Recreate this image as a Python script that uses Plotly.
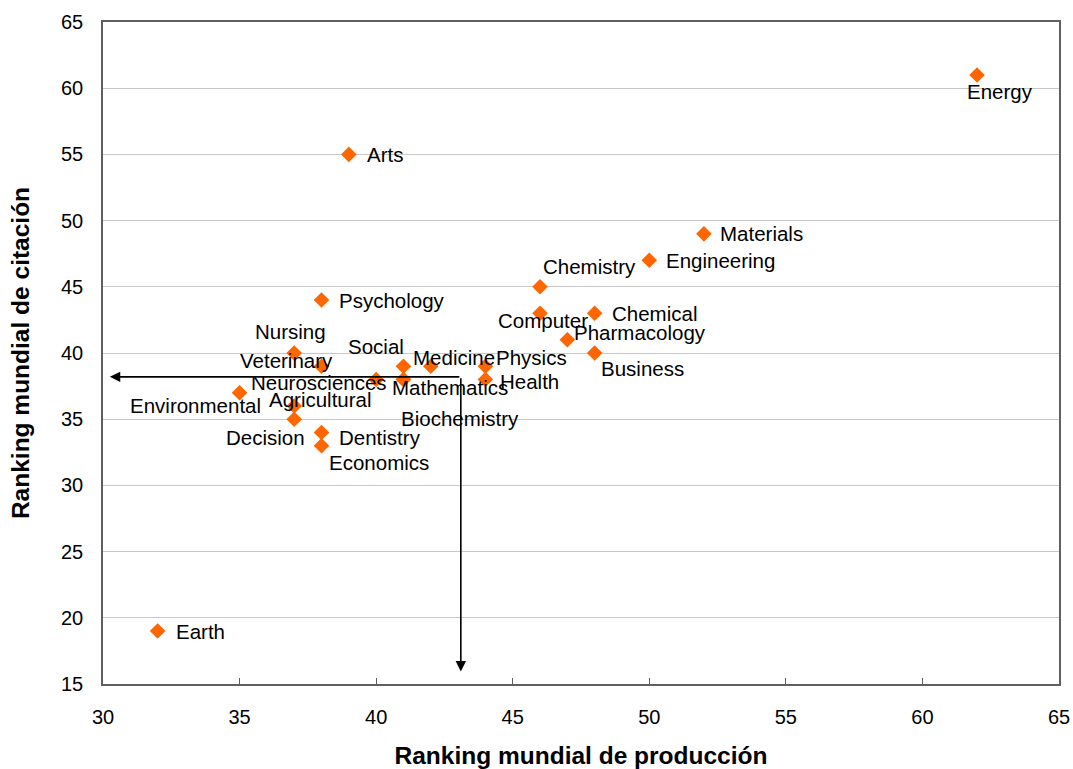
import plotly.graph_objects as go

# ---- data ----
areas = ["Energy", "Arts", "Materials", "Engineering", "Chemistry", "Computer",
         "Chemical", "Pharmacology", "Business", "Psychology", "Nursing",
         "Veterinary", "Social", "Medicine", "Physics", "Neurosciences",
         "Mathematics", "Health", "Environmental", "Agricultural",
         "Biochemistry", "Decision", "Dentistry", "Economics", "Earth"]
produccion = [62, 39, 52, 50, 46, 46, 48, 47, 48, 38, 37, 38, 41, 42, 44, 40,
              41, 44, 35, 37, 41, 37, 38, 38, 32]
citacion = [61, 55, 49, 47, 45, 43, 43, 41, 40, 44, 40, 39, 39, 39, 39, 38,
            38, 38, 37, 36, 38, 35, 34, 33, 19]

ref_x = 43.1   # reference production rank
ref_y = 38.2   # reference citation rank

# ---- label placement (pixel offsets of label centre from point; style) ----
label_offsets = {
    "Energy": (23, 17), "Arts": (36, 0), "Materials": (58, 0),
    "Engineering": (71, 0), "Chemistry": (49, -20), "Computer": (3, 7),
    "Chemical": (60, 0), "Pharmacology": (73, -7), "Business": (48, 15),
    "Psychology": (70, 0), "Nursing": (-4, -22), "Veterinary": (-35, -6),
    "Social": (-27, -20), "Medicine": (23, -9), "Physics": (46, -9),
    "Neurosciences": (-57, 3), "Mathematics": (47, 8), "Health": (44, 2),
    "Environmental": (-44, 13), "Agricultural": (26, -6),
    "Biochemistry": (57, 39), "Decision": (-29, 18), "Dentistry": (58, 5),
    "Economics": (57, 17), "Earth": (43, 0),
}

FONT = "Liberation Sans, Arial, sans-serif"

fig = go.Figure()
fig.add_trace(go.Scatter(
    x=produccion, y=citacion, mode="markers",
    marker=dict(symbol="diamond", size=12, color="#FF6600",
                line=dict(width=0)),
    hovertext=areas, showlegend=False,
))

annotations = []
for name, px, cy in zip(areas, produccion, citacion):
    dx, dy = label_offsets[name]
    annotations.append(dict(
        x=px, y=cy, xref="x", yref="y", text=name, showarrow=False,
        xanchor="center", yanchor="middle", xshift=dx, yshift=-dy,
        font=dict(family=FONT, size=20.5, color="black"),
    ))

# reference arrows
annotations.append(dict(
    x=30.25, y=ref_y, ax=ref_x, ay=ref_y, xref="x", yref="y",
    axref="x", ayref="y", text="", showarrow=True, arrowhead=2,
    arrowsize=1.3, arrowwidth=1.6, arrowcolor="black",
))
annotations.append(dict(
    x=ref_x, y=15.95, ax=ref_x, ay=ref_y, xref="x", yref="y",
    axref="x", ayref="y", text="", showarrow=True, arrowhead=2,
    arrowsize=1.3, arrowwidth=1.6, arrowcolor="black",
))

fig.update_layout(
    width=1073, height=769,
    margin=dict(l=103, r=14, t=22, b=85, autoexpand=False),
    paper_bgcolor="white", plot_bgcolor="white",
    font=dict(family=FONT, size=20, color="black"),
    annotations=annotations,
    xaxis=dict(
        range=[30, 65], dtick=5, tick0=30, showgrid=False, zeroline=False,
        showline=True, linecolor="#606060", linewidth=1.5, mirror=True,
        ticks="inside", ticklen=6, tickcolor="#606060",
        ticklabelstandoff=14, ticklabeloverflow="allow",
        tickfont=dict(family=FONT, size=20),
        title=dict(text="<b>Ranking mundial de producción</b>",
                   font=dict(family=FONT, size=24.5), standoff=20),
    ),
    yaxis=dict(
        range=[15, 65], dtick=5, tick0=15, showgrid=True,
        gridcolor="#c8c8c8", gridwidth=1, zeroline=False,
        showline=True, linecolor="#606060", linewidth=1.5, mirror=True,
        ticks="", ticklabelstandoff=14,
        tickfont=dict(family=FONT, size=20),
        title=dict(text="<b>Ranking mundial de citación</b>",
                   font=dict(family=FONT, size=24.5), standoff=24),
    ),
)

fig.write_html(
    "out.html",
    config={"displayModeBar": False},
    post_script="document.body.style.margin='0';document.body.style.overflow='hidden';",
)
